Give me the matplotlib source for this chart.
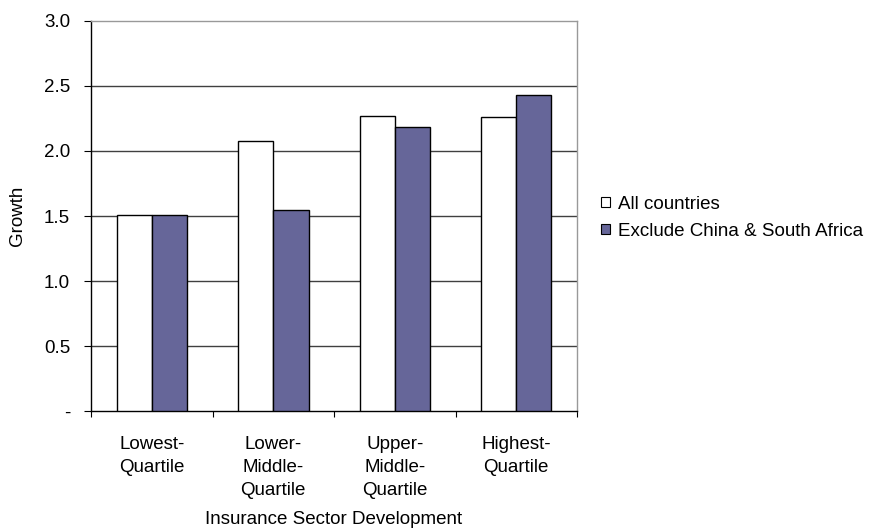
import matplotlib
matplotlib.use("Agg")
import matplotlib.pyplot as plt
import numpy as np
from matplotlib.patches import Patch

categories = ["Lowest-\nQuartile", "Lower-\nMiddle-\nQuartile", "Upper-\nMiddle-\nQuartile", "Highest-\nQuartile"]
all_countries = [1.51, 2.08, 2.27, 2.26]
excl_china_sa = [1.51, 1.55, 2.185, 2.43]
series_names = ["All countries", "Exclude China & South Africa"]
y_ticks = [0.0, 0.5, 1.0, 1.5, 2.0, 2.5, 3.0]
y_tick_labels = ["-", "0.5", "1.0", "1.5", "2.0", "2.5", "3.0"]

FS = 13.5
plt.rcParams["font.family"] = ["Liberation Sans", "DejaVu Sans"]
plt.rcParams["font.size"] = FS

fig = plt.figure(figsize=(8.72, 5.30), dpi=100)
ax = fig.add_axes([0.1044, 0.2245, 0.5573, 0.7359])

x = np.arange(len(categories))
w = 0.29
purple = "#666699"
ax.bar(x - w / 2, all_countries, w, color="white", edgecolor="black", linewidth=1.0, zorder=3)
ax.bar(x + w / 2, excl_china_sa, w, color=purple, edgecolor="black", linewidth=1.0, zorder=3)

ax.set_xlim(-0.5, len(categories) - 0.5)
ax.set_ylim(0, 3.0)
ax.set_yticks(y_ticks)
ax.set_yticklabels(y_tick_labels)
ax.set_xticks(x)
ax.set_xticklabels(categories, linespacing=1.46, va="top")
ax.tick_params(axis="x", which="major", length=0, pad=18)
ax.set_xticks(np.arange(len(categories) + 1) - 0.5, minor=True)
ax.tick_params(axis="x", which="minor", direction="out", length=4, width=0.8)
ax.tick_params(axis="y", direction="out", length=5, width=0.8, pad=10)

for yv in y_ticks[1:-1]:
    ax.axhline(yv, color="#404040", linewidth=1.0, zorder=1)

ax.spines["top"].set_color("#999999")
ax.spines["right"].set_color("#999999")
ax.spines["left"].set_color("black")
ax.spines["bottom"].set_color("black")
for s in ax.spines.values():
    s.set_linewidth(1.0)

ax.set_ylabel("Growth", labelpad=13)
ax.set_xlabel("Insurance Sector Development", labelpad=9)

handles = [Patch(facecolor="white", edgecolor="black", linewidth=0.8),
           Patch(facecolor=purple, edgecolor="black", linewidth=0.8)]
fig.legend(handles, series_names, loc="upper left", bbox_to_anchor=(0.689, 0.631),
           frameon=False, handlelength=0.48, handleheight=0.48, handletextpad=0.43,
           labelspacing=0.55, borderaxespad=0, borderpad=0)

fig.savefig("out.png", dpi=100)
